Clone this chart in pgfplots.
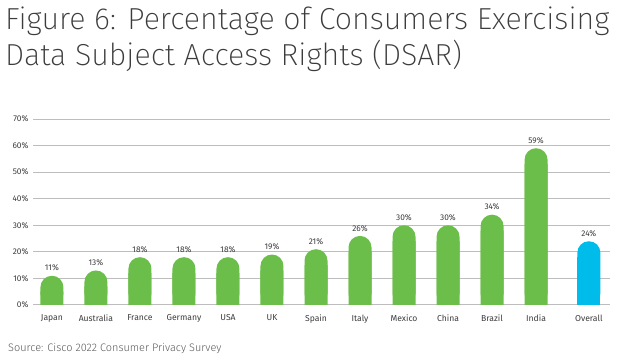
\documentclass[border=0pt]{standalone}
\usepackage{fontspec}
\setmainfont{Fira Sans}
\newfontfamily\lightfont{Fira Sans Light}
\newfontfamily\thinfont{Fira Sans ExtraLight}
\usepackage{pgfplots}
\usepackage{pgfplotstable}
\pgfplotsset{compat=1.18}
\definecolor{cgreen}{HTML}{6CBE4A}
\definecolor{cblue}{HTML}{00BCEB}
\definecolor{gridgray}{HTML}{BDBDBD}
\definecolor{txt}{HTML}{3C3C3C}
\pgfplotstableread{
x v
0 11
1 13
2 18
3 18
4 18
5 19
6 21
7 26
8 30
9 30
10 34
11 59
}\countries
\pgfplotstableread{
x v
12.2 24
}\overall
\begin{document}
\begin{tikzpicture}
\path[use as bounding box] (0pt,0pt) rectangle (621pt,363pt);
\node[anchor=base west, inner sep=0pt, text=txt, font=\thinfont\fontsize{30.4}{32}\selectfont] at (5pt,333pt) {Figure 6: Percentage of Consumers Exercising};
\node[anchor=base west, inner sep=0pt, text=txt, font=\thinfont\fontsize{30.4}{32}\selectfont] at (5pt,297pt) {Data Subject Access Rights (DSAR)};
\node[anchor=base west, inner sep=0pt, text=txt!85, font=\lightfont\fontsize{10.9}{12}\selectfont] at (8pt,11pt) {Source: Cisco 2022 Consumer Privacy Survey};
\begin{axis}[
  at={(33pt,58pt)}, anchor=south west,
  scale only axis, width=577pt, height=186pt,
  xmin=-0.43, xmax=12.68, ymin=0, ymax=70,
  axis line style={draw=none},
  tick style={draw=none},
  ymajorgrids, grid style={gridgray, line width=1pt},
  ytick={0,10,...,70},
  yticklabel={\pgfmathprintnumber{\tick}\%},
  /pgf/number format/assume math mode=true,
  yticklabel style={font=\fontsize{8.3}{9}\selectfont, text=txt, xshift=-1pt},
  xtick={0,1,2,3,4,5,6,7,8,9,10,11,12.2},
  xticklabels={Japan,Australia,France,Germany,USA,UK,Spain,Italy,Mexico,China,Brazil,India,Overall},
  xticklabel style={font=\fontsize{8.6}{9}\selectfont, text=txt, yshift=-2pt},
  ybar, bar width=23pt, bar shift=0pt,
  nodes near coords={\pgfmathprintnumber{\pgfplotspointmeta}\%},
  every node near coord/.append style={font=\fontsize{8.3}{9}\selectfont, text=txt, /pgf/number format/assume math mode=true, yshift=1pt},
  clip=false,
]
\addplot[fill=cgreen, draw=none, rounded corners=11.5pt] table[x=x,y=v] {\countries};
\addplot[fill=cgreen, draw=none, nodes near coords={}] table[x=x,y expr=\thisrow{v}-6] {\countries};
\addplot[fill=cblue, draw=none, rounded corners=11.5pt] table[x=x,y=v] {\overall};
\addplot[fill=cblue, draw=none, nodes near coords={}] table[x=x,y expr=\thisrow{v}-6] {\overall};
\end{axis}
\end{tikzpicture}
\end{document}
